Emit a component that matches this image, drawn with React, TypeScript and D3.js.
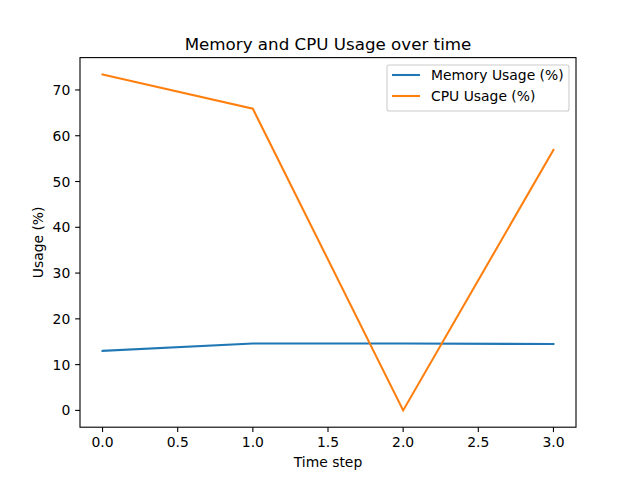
import React from "react";
import * as d3 from "d3";

const timeSteps = [0, 1, 2, 3];
const memoryUsage = [13.0, 14.6, 14.6, 14.5];
const cpuUsage = [73.4, 65.9, 0.0, 56.9];
const xTicks = [0, 0.5, 1, 1.5, 2, 2.5, 3];
const yTicks = [0, 10, 20, 30, 40, 50, 60, 70];
const seriesNames = ["Memory Usage (%)", "CPU Usage (%)"];
const seriesColors = ["#1f77b4", "#ff7f0e"];

export default function App() {
  const W = 640, H = 480;
  const left = 80, right = 576, top = 57.6, bottom = 427.2;
  const all = [...memoryUsage, ...cpuUsage];
  const ymin = d3.min(all)!, ymax = d3.max(all)!;
  const yp = (ymax - ymin) * 0.05;
  const x = d3.scaleLinear().domain([-0.15, 3.15]).range([left, right]);
  const y = d3.scaleLinear().domain([ymin - yp, ymax + yp]).range([bottom, top]);
  const line = d3.line<number>().x((_, i) => x(timeSteps[i])).y((d) => y(d));
  const series = [memoryUsage, cpuUsage];
  const font = "DejaVu Sans";
  const fs = 13.9;
  return (
    <svg width={W} height={H} style={{ position: "absolute", left: 0, top: 0, background: "#fff" }} fontFamily={font}>
      <rect x={0} y={0} width={W} height={H} fill="#fff" />
      {series.map((s, i) => (
        <path key={i} d={line(s)!} fill="none" stroke={seriesColors[i]} strokeWidth={2.08} strokeLinecap="square" />
      ))}
      <rect x={left} y={top} width={right - left} height={bottom - top} fill="none" stroke="#000" strokeWidth={1.1} />
      {xTicks.map((t) => (
        <g key={t}>
          <line x1={x(t)} x2={x(t)} y1={bottom} y2={bottom + 4.86} stroke="#000" strokeWidth={1.1} />
          <text x={x(t)} y={bottom + 19.5} fontSize={fs} textAnchor="middle">{t.toFixed(1)}</text>
        </g>
      ))}
      {yTicks.map((t) => (
        <g key={t}>
          <line x1={left - 4.86} x2={left} y1={y(t)} y2={y(t)} stroke="#000" strokeWidth={1.1} />
          <text x={left - 9.7} y={y(t) + 5} fontSize={fs} textAnchor="end">{t}</text>
        </g>
      ))}
      <text x={(left + right) / 2} y={467} fontSize={fs} textAnchor="middle">Time step</text>
      <text transform={`translate(43,${(top + bottom) / 2}) rotate(-90)`} fontSize={fs} textAnchor="middle">Usage (%)</text>
      <text x={(left + right) / 2} y={49.5} fontSize={16.7} textAnchor="middle">Memory and CPU Usage over time</text>
      <g>
        <rect x={387} y={65} width={182} height={46} rx={2} fill="#fff" fillOpacity={0.8} stroke="#ccc" strokeWidth={1.1} />
        {seriesNames.map((n, i) => (
          <g key={n}>
            <line x1={392} x2={420} y1={75 + i * 21} y2={75 + i * 21} stroke={seriesColors[i]} strokeWidth={2.08} />
            <text x={431} y={80 + i * 21} fontSize={fs}>{n}</text>
          </g>
        ))}
      </g>
    </svg>
  );
}
